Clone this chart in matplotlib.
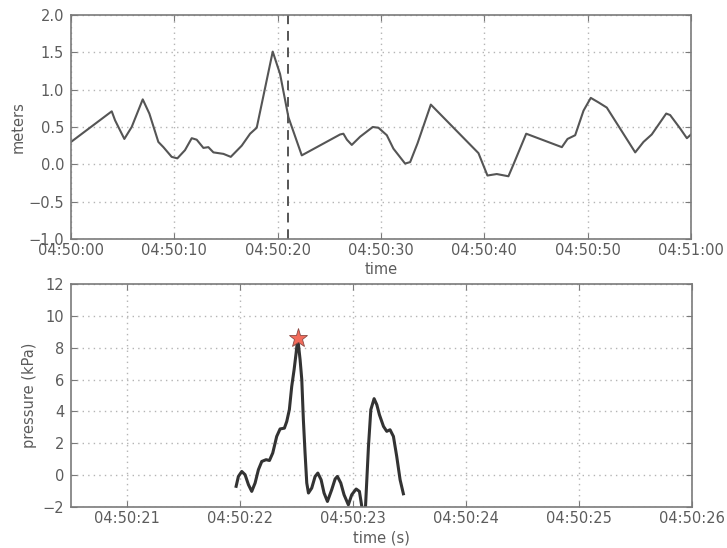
import datetime as dt
import matplotlib
matplotlib.use("Agg")
import matplotlib.pyplot as plt
import matplotlib.dates as mdates

# Wave height record: seconds after 04:50:00 and height in meters
wave_sec = [0, 3.94, 4.26, 5.16, 5.87, 6.94, 7.58, 8.45, 8.94, 9.74, 10.29,
            11.03, 11.68, 12.16, 12.81, 13.29, 13.78, 14.75, 15.46, 16.52,
            17.33, 17.97, 19.52, 20.23, 21.04, 22.33, 26.04, 26.36, 26.7,
            27.17, 27.98, 29.2, 29.75, 30.56, 31.2, 32.33, 32.82, 33.53,
            34.82, 39.43, 40.3, 41.2, 42.33, 42.82, 44.05, 47.5, 48.05,
            48.79, 49.6, 50.3, 51.04, 51.85, 54.6, 55.4, 56.2, 57.6, 57.98,
            58.95, 59.6, 60]
wave_m = [0.30, 0.71, 0.59, 0.34, 0.50, 0.87, 0.68, 0.30, 0.23, 0.10, 0.08,
          0.19, 0.35, 0.33, 0.22, 0.23, 0.16, 0.14, 0.10, 0.25,
          0.41, 0.49, 1.51, 1.21, 0.63, 0.12, 0.40, 0.41, 0.33,
          0.26, 0.37, 0.50, 0.49, 0.39, 0.21, 0.01, 0.03, 0.28,
          0.80, 0.15, -0.15, -0.13, -0.16, 0.00, 0.41, 0.23, 0.34,
          0.39, 0.72, 0.89, 0.83, 0.76, 0.16, 0.30, 0.40, 0.68, 0.66,
          0.48, 0.35, 0.40]
impact_sec = 21.0  # marked instant, seconds after 04:50:00

# Pressure record: seconds after 04:50:22 and pressure in kPa
press_sec = [-0.035, -0.015, 0.015, 0.044, 0.074, 0.103, 0.133, 0.162, 0.192,
             0.23, 0.26, 0.289, 0.324, 0.354, 0.392, 0.413, 0.436, 0.457,
             0.478, 0.496, 0.51, 0.531, 0.546, 0.56, 0.575, 0.59, 0.605,
             0.634, 0.664, 0.688, 0.717, 0.743, 0.773, 0.811, 0.841, 0.861,
             0.891, 0.92, 0.958, 0.988, 1.027, 1.056, 1.077, 1.085, 1.106,
             1.11, 1.136, 1.157, 1.186, 1.21, 1.233, 1.269, 1.298, 1.327,
             1.357, 1.386, 1.416, 1.445]
press_kpa = [-0.70, -0.08, 0.23, 0.03, -0.60, -1.02, -0.49, 0.34, 0.86,
             0.97, 0.92, 1.39, 2.43, 2.90, 2.95, 3.37, 4.11, 5.57,
             6.62, 7.67, 8.60, 7.25, 6.00, 3.48, 1.39, -0.49, -1.12,
             -0.81, -0.08, 0.13, -0.29, -1.12, -1.65, -0.91, -0.24, -0.08,
             -0.49, -1.23, -1.86, -1.23, -0.87, -1.02, -1.96, -4.00, -4.00,
             -1.96, 1.80, 4.11, 4.80, 4.42, 3.79, 3.06, 2.75, 2.85,
             2.43, 1.18, -0.29, -1.17]

t0 = dt.datetime(2014, 1, 1, 4, 50, 0)
wave_t = [t0 + dt.timedelta(seconds=s) for s in wave_sec]
t1 = dt.datetime(2014, 1, 1, 4, 50, 22)
press_t = [t1 + dt.timedelta(seconds=s) for s in press_sec]

TXT = "#5c5c5c"
SPINE = "#7a7a7a"
GRID = "#b4b4b4"

plt.rcParams.update({
    "font.family": "DejaVu Sans",
    "xtick.direction": "in",
    "ytick.direction": "in",
    "xtick.top": True,
    "ytick.right": True,
    "xtick.color": SPINE,
    "ytick.color": SPINE,
    "xtick.labelcolor": TXT,
    "ytick.labelcolor": TXT,
    "xtick.major.size": 4,
    "ytick.major.size": 4,
    "xtick.major.pad": 3,
    "ytick.major.pad": 5,
})

fig = plt.figure(figsize=(7.27, 5.48), dpi=100)
ax1 = fig.add_axes([0.0977, 0.5639, 0.8528, 0.4087])
ax2 = fig.add_axes([0.0977, 0.0748, 0.8543, 0.4070])

for ax in (ax1, ax2):
    for sp in ax.spines.values():
        sp.set_color(SPINE)
        sp.set_linewidth(1.2)
    ax.grid(True, color=GRID, linestyle=(0, (1, 3)), linewidth=1.0)
    ax.tick_params(labelsize=10.5)

# Top: wave height
ax1.plot(wave_t, wave_m, color="#555555", lw=1.5)
ax1.axvline(t0 + dt.timedelta(seconds=impact_sec), color="#555555",
            lw=1.4, linestyle=(0, (5, 3.5)))
ax1.set_xlim(t0, t0 + dt.timedelta(seconds=60))
ax1.set_ylim(-1.0, 2.0)
ax1.set_yticks([-1.0, -0.5, 0.0, 0.5, 1.0, 1.5, 2.0])
ax1.xaxis.set_major_locator(mdates.SecondLocator(bysecond=range(0, 60, 10)))
ax1.xaxis.set_major_formatter(mdates.DateFormatter("%H:%M:%S"))
ax1.set_xlabel("time", color=TXT, fontsize=10.5, labelpad=3)
ax1.set_ylabel("meters", color=TXT, fontsize=10.5, labelpad=2)

# Bottom: pressure with peak marker
ax2.plot(press_t, press_kpa, color="#333333", lw=2.2, solid_joinstyle="round")
ipk = max(range(len(press_kpa)), key=lambda i: press_kpa[i])
ax2.plot([press_t[ipk]], [press_kpa[ipk]], marker="*", markersize=14,
         color="#f26b5b", markeredgecolor="#8a4a44", markeredgewidth=0.6)
ax2.set_xlim(t1 - dt.timedelta(seconds=1.496), t1 + dt.timedelta(seconds=4))
ax2.set_ylim(-2, 12)
ax2.set_yticks(range(-2, 13, 2))
ax2.xaxis.set_major_locator(mdates.SecondLocator(interval=1))
ax2.xaxis.set_major_formatter(mdates.DateFormatter("%H:%M:%S"))
ax2.set_xlabel("time (s)", color=TXT, fontsize=10.5, labelpad=3)
ax2.set_ylabel("pressure (kPa)", color=TXT, fontsize=10.5, labelpad=4)

fig.savefig("out.png", dpi=100)
